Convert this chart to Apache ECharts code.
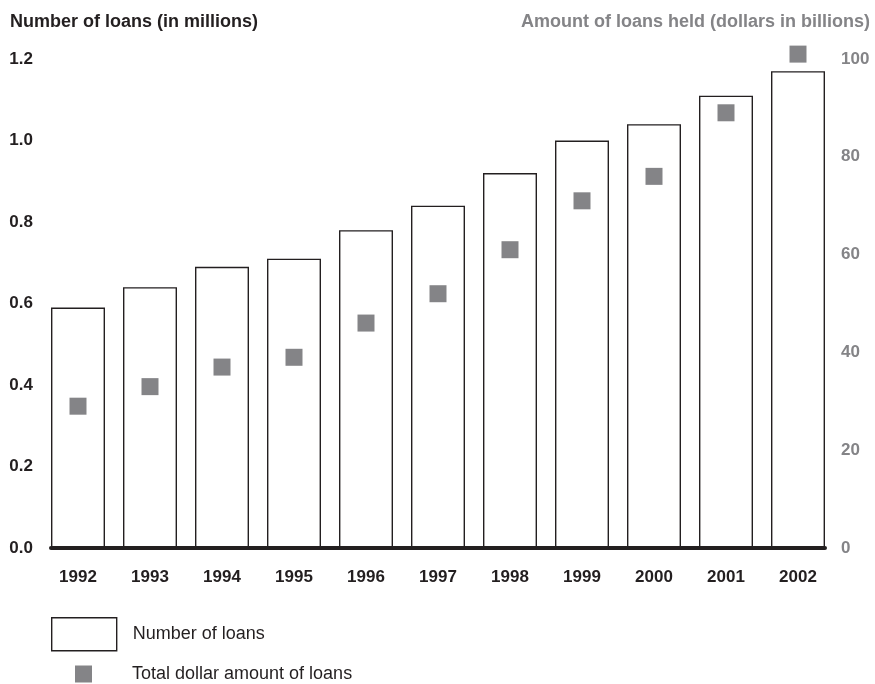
<!DOCTYPE html>
<html>
<head>
<meta charset="utf-8">
<script src="https://cdn.jsdelivr.net/npm/echarts@6/dist/echarts.min.js"></script>
<style>
  html, body { margin: 0; padding: 0; background: #fff; }
  #chart { width: 875px; height: 684px; }
</style>
</head>
<body>
<div id="chart"></div>
<script>
const years = ['1992', '1993', '1994', '1995', '1996', '1997', '1998', '1999', '2000', '2001', '2002']
// number of loans, millions
const loanCount = [0.59, 0.64, 0.69, 0.71, 0.78, 0.84, 0.92, 1.00, 1.04, 1.11, 1.17]
// amount held, billions of dollars
const loanAmount = [29, 33, 37, 39, 46, 52, 61, 71, 76, 89, 101]
const leftTicks = [0, 0.2, 0.4, 0.6, 0.8, 1.0, 1.2]
const rightTicks = [0, 20, 40, 60, 80, 100]

const font = '"Liberation Sans", Arial, sans-serif'
const dark = '#231f20'
const grey = '#848487'

const chart = echarts.init(document.getElementById('chart'))

chart.setOption({
  animation: false,
  textStyle: { fontFamily: font },
  title: [
    {
      text: 'Number of loans (in millions)',
      left: 10,
      top: 13,
      padding: 0,
      textStyle: { fontSize: 18, fontWeight: 'bold', color: dark, fontFamily: font }
    },
    {
      text: 'Amount of loans held (dollars in billions)',
      right: 5,
      top: 13,
      padding: 0,
      textStyle: { fontSize: 18, fontWeight: 'bold', color: grey, fontFamily: font }
    }
  ],
  legend: [
    {
      data: ['Number of loans'],
      left: 51,
      top: 617,
      padding: 0,
      itemWidth: 65,
      itemHeight: 33,
      icon: 'rect',
      itemStyle: { color: '#fff', borderColor: dark, borderWidth: 1.4 },
      textStyle: { fontSize: 18, color: dark, padding: [0, 0, 0, 11] }
    },
    {
      data: ['Total dollar amount of loans'],
      left: 75,
      top: 665,
      padding: 0,
      itemWidth: 17,
      itemHeight: 17,
      icon: 'rect',
      textStyle: { fontSize: 18, color: dark, padding: [0, 0, 0, 35] }
    }
  ],
  grid: [
    {
      // bars reach the plot edges, so the category band is wider than the drawn axis
      left: 42,
      right: 41,
      top: 59,
      bottom: 136,
      containLabel: false
    },
    {
      left: 51,
      right: 50,
      top: 59,
      bottom: 136,
      containLabel: false
    }
  ],
  xAxis: [
    {
      type: 'category',
      data: years,
      axisTick: { show: false },
      axisLine: { show: false },
      axisLabel: {
        color: dark,
        fontSize: 17,
        fontWeight: 'bold',
        margin: 21
      }
    },
    {
      type: 'value',
      gridIndex: 1,
      axisTick: { show: false },
      axisLabel: { show: false },
      splitLine: { show: false },
      axisLine: { lineStyle: { color: dark, width: 4 } },
      z: 5
    }
  ],
  yAxis: [
    {
      type: 'value',
      min: 0,
      max: 1.2,
      interval: 0.2,
      splitLine: { show: false },
      axisLine: { show: false },
      axisTick: { show: false },
      axisLabel: {
        color: dark,
        fontSize: 17,
        fontWeight: 'bold',
        margin: 9,
        formatter: v => leftTicks.find(t => Math.abs(t - v) < 1e-6).toFixed(1)
      }
    },
    {
      type: 'value',
      min: 0,
      max: 100,
      interval: 20,
      position: 'right',
      splitLine: { show: false },
      axisLine: { show: false },
      axisTick: { show: false },
      axisLabel: {
        color: grey,
        fontSize: 17,
        fontWeight: 'bold',
        margin: 7,
        formatter: v => String(rightTicks.find(t => t === v))
      }
    },
    {
      type: 'value',
      gridIndex: 1,
      show: false
    }
  ],
  series: [
    {
      name: 'Number of loans',
      type: 'bar',
      data: loanCount,
      barWidth: 54,
      itemStyle: { color: '#fff', borderColor: dark, borderWidth: 1.4 },
      z: 1
    },
    {
      name: 'Total dollar amount of loans',
      type: 'scatter',
      yAxisIndex: 1,
      data: loanAmount,
      symbol: 'rect',
      symbolSize: 17,
      clip: false,
      itemStyle: { color: grey, opacity: 1 },
      z: 3
    }
  ]
})
</script>
</body>
</html>
